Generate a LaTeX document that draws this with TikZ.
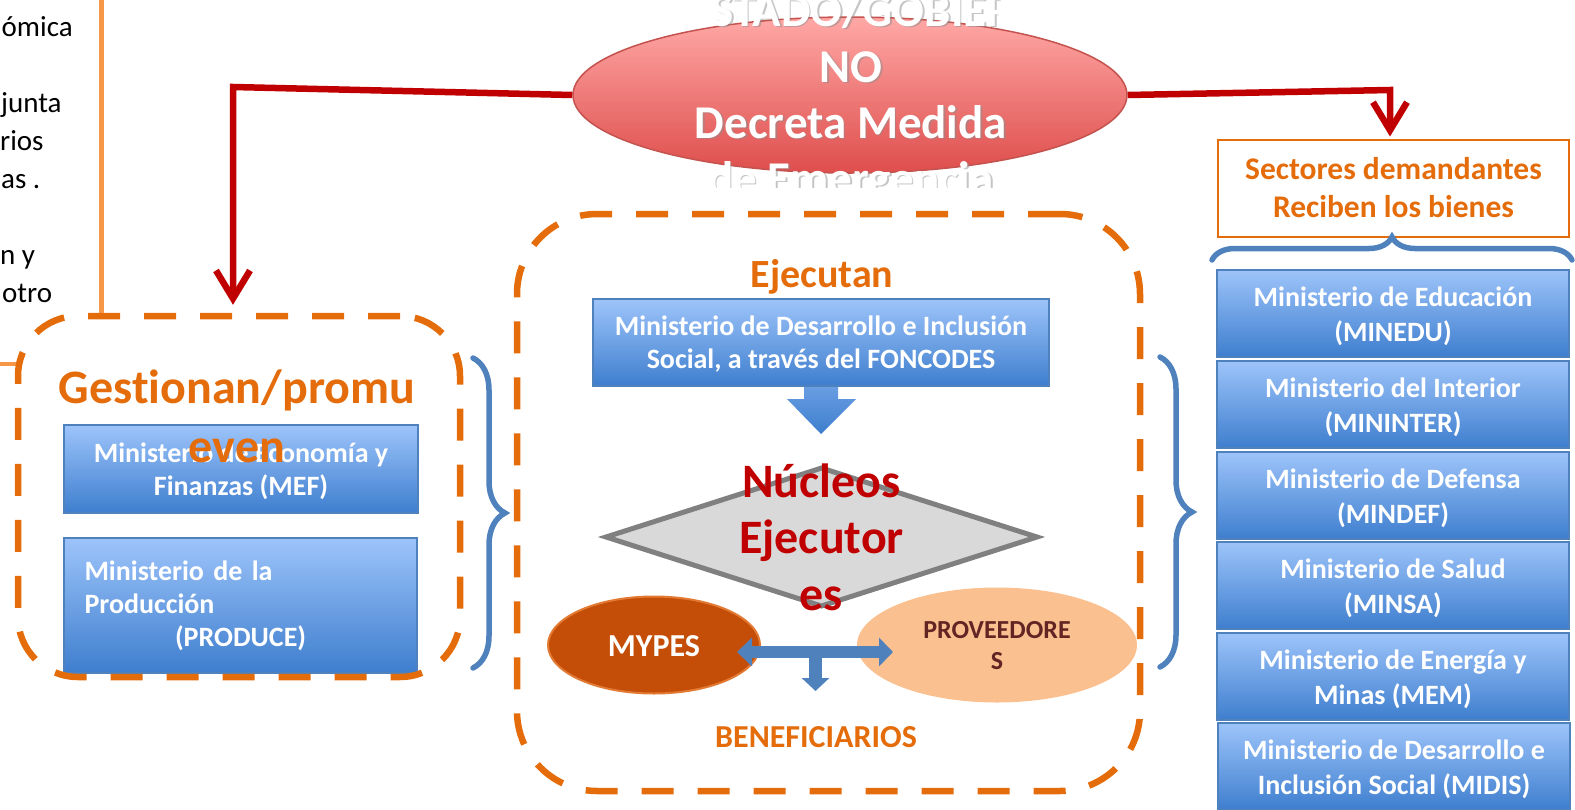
\documentclass[tikz,border=0pt]{standalone}
\usepackage{fontspec}
\setmainfont{Carlito}[Ligatures=NoCommon]
\usetikzlibrary{shapes.geometric,arrows.meta,decorations.pathreplacing}

\definecolor{naranja}{RGB}{228,108,10}
\definecolor{naranjaclaro}{RGB}{247,150,70}
\definecolor{rojo}{RGB}{192,0,0}
\definecolor{azulborde}{RGB}{79,129,189}
\definecolor{azularriba}{RGB}{157,196,250}
\definecolor{azulabajo}{RGB}{62,126,206}
\definecolor{gris}{RGB}{217,217,217}
\definecolor{grisborde}{RGB}{128,128,128}
\definecolor{mypesfondo}{RGB}{196,78,8}
\definecolor{mypesborde}{RGB}{226,122,52}
\definecolor{proveedor}{RGB}{250,192,144}
\definecolor{marron}{RGB}{99,37,35}
\definecolor{rosaarriba}{RGB}{255,168,166}
\definecolor{rosaabajo}{RGB}{222,78,76}
\definecolor{rosaborde}{RGB}{196,82,78}

\tikzset{
  fragmento/.style={anchor=base west, inner sep=0pt, font=\fontsize{29}{38}\selectfont},
  cajaazul/.style={draw=azulborde, line width=2pt, top color=azularriba, bottom color=azulabajo,
    text=white, font=\bfseries\fontsize{28}{33}\selectfont, align=center, inner sep=0pt},
  cajaderecha/.style={cajaazul, minimum width=352pt, minimum height=87pt, font=\bfseries\fontsize{28}{35}\selectfont,
    text height=61pt, text depth=6pt},
  guiones/.style={draw=naranja, line width=6.5pt, dash pattern=on 32pt off 24pt},
  flecharoja/.style={draw=rojo, line width=6.5pt, -{Straight Barb[length=28pt,width=34pt]}},
  llave/.style={draw=azulborde, line width=5.5pt, line cap=round, decorate, decoration={brace, amplitude=#1}},
  llave/.default=32pt,
  bloque/.style={draw=azulborde, line width=12pt},
  titulo/.style={text=naranja, font=\bfseries\fontsize{48}{59}\selectfont, align=center, inner sep=0pt, anchor=base},
  elipse/.style={ellipse, draw=rosaborde, line width=1.5pt, top color=rosaarriba, bottom color=rosaabajo},
  textoestado/.style={text=white, font=\bfseries\fontsize{47}{56}\selectfont, align=center, inner sep=0pt, anchor=base},
  rombo/.style={diamond, draw=grisborde, fill=gris, line width=5pt, inner sep=0pt},
}

\begin{document}
\begin{tikzpicture}[x=1pt,y=-1pt]
\useasboundingbox (0,0) rectangle (1575,809);
\clip (0,0) rectangle (1575,809);

    \node[fragmento] at (1.5,36) {ómica};
    \node[fragmento] at (1,112) {junta};
    \node[fragmento] at (0,150) {rios};
    \node[fragmento] at (1,188) {as .};
    \node[fragmento] at (0,264) {n y};
    \node[fragmento] at (2,302) {otro};

\coordinate (lineasup) at (101.5,0);
\draw[naranjaclaro, line width=4pt] (0,364) -- (20,364);

% ESTADO
\node[elipse, minimum width=554pt, minimum height=156pt] (estado) at (850,95) {};
\begin{scope}
    \clip (712,0) rectangle (1000,187) (680,40) rectangle (1020,150);
    \node[textoestado, text=black!45, text opacity=0.5] at (852.5,195.5) {ESTADO/GOBIER\\NO\\Decreta Medida\\de Emergencia};
    \node[textoestado] (lema) at (851,194) {ESTADO/GOBIER\\NO\\Decreta Medida\\de Emergencia};
\end{scope}

% Gestionan
\node[cajaazul, minimum width=354pt, minimum height=88pt, text height=58pt, text depth=6pt] (mef) at (241,469) {Ministerio de Economía y\\Finanzas (MEF)};
\node[cajaazul, minimum width=353pt, minimum height=135pt, text width=312pt, align=left] (produce) at (240.5,605.5) {Ministerio de la\\Producción\\\hspace*{90.5pt}(PRODUCE)};
\node[titulo] (gestiontit) at (237,462) {Gestionan/promu\\even};

% Ejecutan
\node[anchor=base, text=naranja, font=\bfseries\fontsize{40}{46}\selectfont] (ejecutan) at (822,287) {Ejecutan};
\node[cajaazul, minimum width=456pt, minimum height=87pt, text height=57pt, text depth=6pt] (fonc) at (821,342.5) {Ministerio de Desarrollo e Inclusión\\Social, a través del FONCODES};
\shade[top color=azularriba!45!azulabajo, bottom color=azulabajo] ([xshift=-17pt]fonc.south) -- ++(0,12) -- ++(-17,0) -- ++(34,35) -- ++(35,-35) -- ++(-18,0) -- ++(0,-12) -- cycle;

\node[rombo, minimum width=433pt, minimum height=140pt] (diamante) at (821.5,537) {};
\node[text=rojo, font=\bfseries\fontsize{48}{56.5}\selectfont, align=center, inner sep=0pt, anchor=base] (nucleos) at (821.5,610) {Núcleos\\Ejecutor\\es};

\node[ellipse, fill=mypesfondo, draw=mypesborde, line width=2pt, minimum width=212pt, minimum height=97pt,
    text=white, font=\bfseries\fontsize{32}{36}\selectfont, text height=22pt, text depth=0pt] (mypes) at (654,645) {MYPES};
\node[ellipse, fill=proveedor, minimum width=280pt, minimum height=115pt, align=center,
    text=marron, font=\bfseries\fontsize{26}{31}\selectfont, text height=48pt, text depth=0pt] (prov) at (997,645) {PROVEEDORE\\S};

\coordinate (cruce) at (815.5,652);
\coordinate (puntaizq) at (737,652);
\coordinate (puntader) at (893,652);
\coordinate (puntabaja) at (815.5,691);
    \draw[bloque, {Triangle[length=15pt,width=28pt]}-{Triangle[length=14pt,width=28pt]}] (puntaizq) -- (puntader);
    \draw[bloque, line width=13pt, -{Triangle[length=13pt,width=27pt]}] (cruce) -- (puntabaja);

\node[anchor=base, text=naranja, font=\bfseries\fontsize{32}{36}\selectfont] (benef) at (816,747) {BENEFICIARIOS};

% Sectores
\node[draw=naranja, line width=2pt, minimum width=351pt, minimum height=97pt, align=center, text height=58pt, text depth=0pt,
    text=naranja, font=\bfseries\fontsize{31.5}{38}\selectfont] (sectores) at (1393.5,188) {Sectores demandantes\\Reciben los bienes};
\draw[llave=23pt] (1212,260) -- (1572,260);

    \node[cajaderecha] (minedu) at (1393,313.5) {Ministerio de Educación\\(MINEDU)};
    \node[cajaderecha] (mininter) at (1393,404.5) {Ministerio del Interior\\(MININTER)};
    \node[cajaderecha] (mindef) at (1393,495.5) {Ministerio de Defensa\\(MINDEF)};
    \node[cajaderecha] (minsa) at (1393,585.5) {Ministerio de Salud\\(MINSA)};
    \node[cajaderecha] (mem) at (1393,676.5) {Ministerio de Energía y\\Minas (MEM)};
    \node[cajaderecha] (midis) at (1394,766.5) {Ministerio de Desarrollo e\\Inclusión Social (MIDIS)};

% marcos
\node[guiones, rounded corners=60pt, minimum width=442pt, minimum height=361pt] (gestion) at (239,496.5) {};
\node[guiones, rounded corners=80pt, minimum width=623pt, minimum height=577pt] (ejecuta) at (828.5,502.5) {};
\draw[naranjaclaro, line width=4.5pt] (lineasup) -- (lineasup |- gestion.north);

\draw[llave] (473,358) -- (473,668);
\draw[llave] (1160,357) -- (1160,667);

\coordinate (codoizq) at (233,87);
\coordinate (cododer) at (1390,90);
    \draw[flecharoja, shorten >=8pt] (estado.west) -- (codoizq) -- (codoizq |- gestion.north);
    \draw[flecharoja, shorten >=2pt] (estado.east) -- (cododer) -- (cododer |- sectores.north);
\end{tikzpicture}
\end{document}
